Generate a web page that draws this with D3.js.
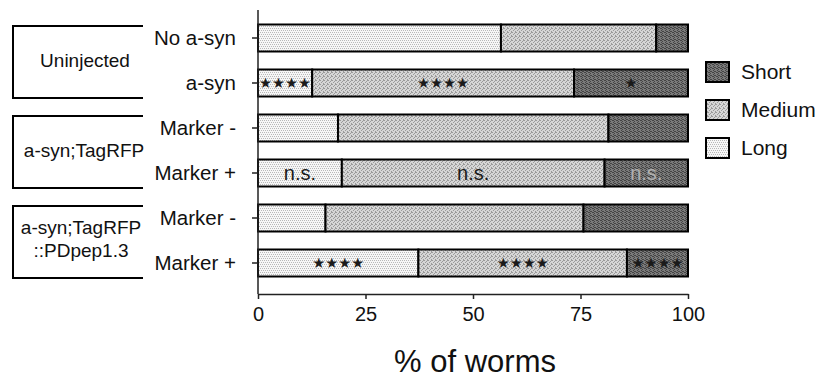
<!DOCTYPE html>
<html><head><meta charset="utf-8">
<script src="https://cdn.jsdelivr.net/npm/d3@7"></script>
<style>body{margin:0;background:#fff}svg{display:block}text{font-family:"Liberation Sans",Arial,sans-serif}</style>
</head><body><svg id="c" width="826" height="385"></svg>
<script>
const rowIds = ["u0","u1","t0","t1","p0","p1"];
const rowLabels = ["No a-syn","a-syn","Marker -","Marker +","Marker -","Marker +"];
const seriesNames = ["Long","Medium","Short"];
const longVals = [56.5, 12.6, 18.6, 19.5, 15.7, 37.3];
const mediumVals = [36.1, 60.9, 62.9, 61.1, 60.0, 48.5];
const shortVals = [7.4, 26.5, 18.5, 19.4, 24.3, 14.2];
const xTicks = [0, 25, 50, 75, 100];
const legendOrder = ["Short","Medium","Long"];
const groups = [
  {lines:["Uninjected"], from:0, to:1},
  {lines:["a-syn;TagRFP"], from:2, to:3},
  {lines:["a-syn;TagRFP","::PDpep1.3"], from:4, to:5}
];
// significance annotations per row per series (Long, Medium, Short)
const annotations = [
  ["","",""],
  ["★★★★","★★★★","★"],
  ["","",""],
  ["n.s.","n.s.","n.s."],
  ["","",""],
  ["★★★★","★★★★","★★★★"]
];

const svg = d3.select("#c");
const defs = svg.append("defs");
function pat(id, bg, fg, cells){
  const p = defs.append("pattern").attr("id",id).attr("width",4).attr("height",4).attr("patternUnits","userSpaceOnUse");
  p.append("rect").attr("width",4).attr("height",4).attr("fill",bg);
  cells.forEach(c=>p.append("rect").attr("x",c[0]).attr("y",c[1]).attr("width",1).attr("height",1).attr("fill",fg));
}
pat("pLong","#f6f6f6","#b8b8b8",[[0,0],[2,0],[1,2],[3,2]]);
pat("pMed","#d6d6d6","#9a9a9a",[[0,0],[2,1],[1,2],[3,3],[3,0]]);
pat("pShort","#7a7a7a","#444",[[0,0],[2,1],[1,2],[3,3],[1,0],[2,3]]);
const fills = {Long:"url(#pLong)", Medium:"url(#pMed)", Short:"url(#pShort)"};

const x = d3.scaleLinear().domain([0,100]).range([258,688]);
const y = d3.scaleBand().domain(rowIds).range([15.5,285.5]).paddingInner(0.4).paddingOuter(0.2);
const bw = y.bandwidth();

const table = rowIds.map((id,i)=>({id, Long:longVals[i], Medium:mediumVals[i], Short:shortVals[i]}));
const stack = d3.stack().keys(seriesNames)(table);

stack.forEach((layer,si)=>{
  svg.append("g").selectAll("rect").data(layer).join("rect")
    .attr("x",d=>x(d[0])).attr("y",d=>y(d.data.id))
    .attr("width",d=>x(Math.min(d[1],100))-x(d[0])).attr("height",bw)
    .attr("fill",fills[seriesNames[si]]).attr("stroke","#000").attr("stroke-width",2);
  svg.append("g").selectAll("text").data(layer).join("text")
    .attr("x",d=>(x(d[0])+x(Math.min(d[1],100)))/2)
    .attr("y",d=>y(d.data.id)+bw/2)
    .attr("text-anchor","middle").attr("dominant-baseline","central")
    .attr("font-size",d=>annotations[rowIds.indexOf(d.data.id)][si].startsWith("n")?20:14.5)
    .style("font-family",d=>annotations[rowIds.indexOf(d.data.id)][si].startsWith("n")?null:"DejaVu Sans")
    .attr("fill",d=>{const a=annotations[rowIds.indexOf(d.data.id)][si]; return (si===2 && a.startsWith("n"))?"#b0b0b0":"#1a1a1a";})
    .text(d=>annotations[rowIds.indexOf(d.data.id)][si]);
});

// y axis
const yAxis = svg.append("g").attr("transform","translate(258,0)").call(d3.axisLeft(y).tickSize(6).tickFormat(""));
yAxis.select(".domain").remove();
yAxis.selectAll("line").attr("stroke","#222").attr("stroke-width",1.5);
svg.append("line").attr("x1",258).attr("x2",258).attr("y1",10).attr("y2",294).attr("stroke","#222").attr("stroke-width",1.5);
svg.append("g").selectAll("text").data(rowIds).join("text")
  .attr("x",236).attr("y",d=>y(d)+bw/2+7).attr("text-anchor","end").attr("font-size",20.5).attr("fill","#111")
  .text((d,i)=>rowLabels[i]);

// x axis
const xAxis = svg.append("g").attr("transform","translate(0,294)")
  .call(d3.axisBottom(x).tickValues(xTicks).tickSize(5).tickPadding(8).tickSizeOuter(0));
xAxis.select(".domain").attr("stroke","#222").attr("stroke-width",1.5);
xAxis.selectAll("line").attr("stroke","#222").attr("stroke-width",1.5);
xAxis.selectAll("text").attr("font-size",20).attr("fill","#111").style("font-family","'Liberation Sans',Arial,sans-serif");
svg.append("text").attr("x",475).attr("y",372).attr("text-anchor","middle").attr("font-size",31).attr("fill","#111").text("% of worms");

// group brackets
groups.forEach(g=>{
  const top = y(rowIds[g.from]) + bw/2 - 12;
  const bot = y(rowIds[g.to]) + bw/2 + 15;
  svg.append("path").attr("d",`M143,${top}H13V${bot}H143`).attr("fill","none").attr("stroke","#000").attr("stroke-width",2);
  const mid = (top+bot)/2;
  const n = g.lines.length;
  g.lines.forEach((l,i)=>{
    svg.append("text").attr("x", n>1?81:(g.from===0?85:84))
      .attr("y", n>1 ? mid + 3 + (i-0.5)*23 : mid + 5)
      .attr("text-anchor","middle").attr("font-size",19).attr("fill","#111").text(l);
  });
});

// legend
const leg = svg.append("g");
legendOrder.forEach((k,i)=>{
  const cy = 72 + i*38;
  leg.append("rect").attr("x",706).attr("y",cy-10).attr("width",23).attr("height",20)
    .attr("fill",fills[k]).attr("stroke","#000").attr("stroke-width",2);
  leg.append("text").attr("x",741).attr("y",cy+7).attr("font-size",21).attr("fill","#111").text(k);
});
</script></body></html>
